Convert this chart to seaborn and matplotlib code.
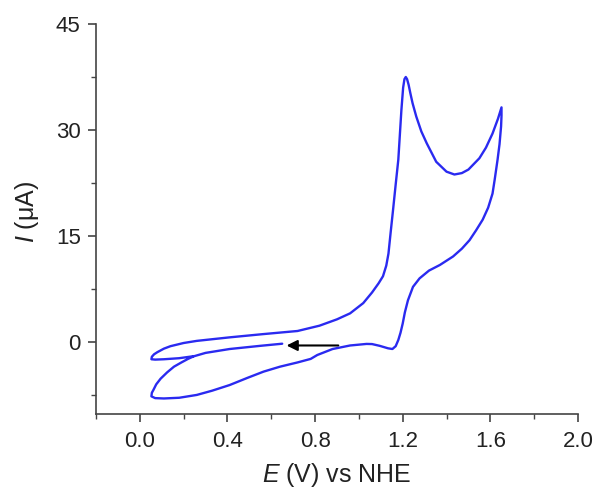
import pandas as pd
import matplotlib
matplotlib.use("Agg")
import matplotlib.pyplot as plt
import seaborn as sns
from matplotlib.ticker import MultipleLocator

# potential (V vs NHE) and current (uA), in scan order
E = [0.65, 0.55, 0.41, 0.30, 0.25, 0.18, 0.11, 0.07, 0.053,
     0.055, 0.065, 0.08, 0.11, 0.14, 0.20, 0.26, 0.41, 0.56, 0.72, 0.82, 0.90, 0.96,
     1.02, 1.06, 1.09, 1.11, 1.125, 1.135, 1.145, 1.156, 1.168, 1.18, 1.194, 1.202,
     1.208, 1.214, 1.220, 1.227, 1.235, 1.245, 1.262, 1.285, 1.31, 1.353, 1.40, 1.436,
     1.47, 1.50, 1.55, 1.58, 1.61, 1.635, 1.651,
     1.651, 1.649, 1.642, 1.633, 1.62, 1.61, 1.59, 1.565, 1.535, 1.505, 1.47, 1.43,
     1.40, 1.37, 1.32, 1.277, 1.247, 1.224, 1.21, 1.20, 1.19, 1.18, 1.168, 1.153,
     1.133, 1.095, 1.06, 1.035, 0.96, 0.88, 0.81, 0.78, 0.72, 0.64, 0.565, 0.49,
     0.41, 0.33, 0.26, 0.18, 0.11, 0.07, 0.053,
     0.055, 0.062, 0.075, 0.095, 0.125, 0.156, 0.19, 0.22, 0.245]
I = [-0.25, -0.55, -1.0, -1.55, -2.0, -2.3, -2.45, -2.5, -2.45,
     -2.1, -1.75, -1.45, -0.95, -0.6, -0.15, 0.15, 0.65, 1.1, 1.55, 2.3, 3.2, 4.05,
     5.5, 7.0, 8.3, 9.3, 10.8, 12.5, 15.5, 18.7, 22.3, 25.8, 32.8, 36.0,
     37.2, 37.5, 37.2, 36.4, 35.2, 33.8, 31.9, 29.8, 28.1, 25.5, 24.1, 23.7,
     23.9, 24.4, 26.0, 27.5, 29.5, 31.6, 33.2,
     32.0, 30.5, 28.0, 25.8, 23.0, 21.0, 19.0, 17.3, 15.8, 14.4, 13.2, 12.1,
     11.5, 10.9, 10.1, 9.0, 7.8, 5.9, 4.2, 2.6, 1.3, 0.28, -0.6, -1.0,
     -0.9, -0.55, -0.3, -0.28, -0.5, -1.0, -1.85, -2.4, -2.9, -3.5, -4.2, -5.1,
     -6.1, -6.9, -7.5, -7.9, -8.0, -7.95, -7.7,
     -7.2, -6.8, -6.0, -5.2, -4.3, -3.5, -2.9, -2.4, -2.05]

xticks = [0.0, 0.4, 0.8, 1.2, 1.6, 2.0]
yticks = [0, 15, 30, 45]

df = pd.DataFrame({"E": E, "I": I})

sns.set_style("ticks")
plt.rcParams["font.family"] = ["Liberation Sans", "DejaVu Sans"]
plt.rcParams["mathtext.fontset"] = "custom"
plt.rcParams["mathtext.it"] = "Liberation Sans:italic"
plt.rcParams["mathtext.rm"] = "Liberation Sans"

fig = plt.figure(figsize=(5.98, 4.91), dpi=100)
ax = fig.add_axes([0.1605, 0.1568, 0.806, 0.7943])

sns.lineplot(data=df, x="E", y="I", sort=False, estimator=None,
             color="#2a2af0", lw=1.7, ax=ax)

ax.annotate("", xy=(0.67, -0.5), xytext=(0.906, -0.5),
            arrowprops=dict(arrowstyle="-|>", color="black", lw=1.5,
                            mutation_scale=16, shrinkA=0, shrinkB=0))

ax.set_xlim(-0.2, 2.0)
ax.set_ylim(-10.2, 45)
ax.set_xticks(xticks)
ax.set_xticklabels([f"{v:.1f}" for v in xticks])
ax.set_yticks(yticks)
ax.xaxis.set_minor_locator(MultipleLocator(0.2))
ax.yaxis.set_minor_locator(MultipleLocator(7.5))

sns.despine(ax=ax)
for s in ["left", "bottom"]:
    ax.spines[s].set_color("#444444")
    ax.spines[s].set_linewidth(1.2)
ax.tick_params(which="major", direction="out", length=6, width=1.2,
               color="#444444", labelsize=16, labelcolor="#222222")
ax.tick_params(which="minor", direction="out", length=3.5, width=1.0,
               color="#444444")
ax.tick_params(axis="x", which="major", pad=6)
ax.tick_params(axis="y", which="major", pad=5)

ax.set_xlabel("$\\it{E}$ (V) vs NHE", fontsize=18, color="#222222", labelpad=7)
ax.set_ylabel("$\\it{I}$ (μA)", fontsize=18, color="#222222")
ax.yaxis.set_label_coords(-0.115, 0.518)

fig.savefig("out.png", dpi=100)
